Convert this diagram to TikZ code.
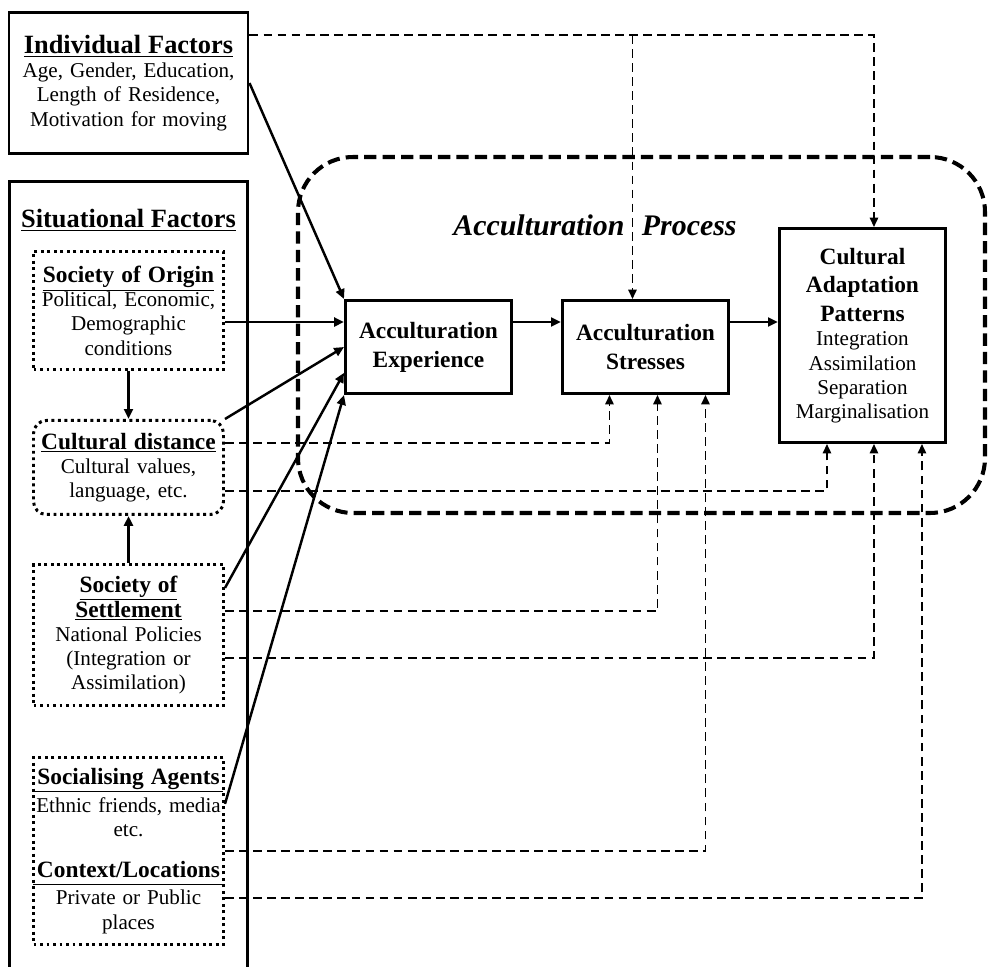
\documentclass[tikz,border=0pt]{standalone}
\usepackage{fontspec}
\setmainfont{Liberation Serif}
\usetikzlibrary{arrows.meta, positioning}
\newcommand{\bighead}{\fontsize{15}{17}\selectfont\bfseries}
\newcommand{\subhead}{\fontsize{13.3}{14.3}\selectfont\bfseries}
\newcommand{\boxhead}{\fontsize{13.3}{16.4}\selectfont\bfseries}

\begin{document}
\begin{tikzpicture}[
  font=\fontsize{12}{13.8}\selectfont,
  factor/.style={draw, line width=1.7pt, align=center, text width=4.6cm,
                 minimum width=4.78cm, inner sep=1pt},
  subfactor/.style={draw, line width=1.7pt, dotted, align=center,
                    text width=3.8cm, minimum width=3.8cm, inner xsep=0pt},
  stage/.style={draw, line width=1.7pt, align=center, text width=3.0cm,
                inner xsep=2pt, minimum width=3.32cm},
  link/.style={-{Triangle[length=5.6pt,width=5pt]}, line width=1.4pt},
  dlink/.style={-{Triangle[length=5.4pt,width=4.8pt]}, line width=1pt,
                dash pattern=on 5pt off 3pt},
  process/.style={draw, line width=2.3pt, dash pattern=on 7pt off 3.5pt,
                  rounded corners=1.1cm}
]
  \useasboundingbox (0,0) rectangle (19.76,-19.34);

  % acculturation process frame
  \node[process, minimum width=13.74cm, minimum height=7.12cm] (proc) at (12.83,-6.7) {};
  \node[font=\fontsize{17}{20}\selectfont\bfseries\itshape] (proctitle) at (11.9,-4.5)
    {Acculturation\hspace{10pt}Process};

  % left column
  \node[factor, minimum height=2.82cm] (indiv) at (2.57,-1.66)
    {{\bighead\underline{Individual Factors}\par}Age, Gender, Education,\\
     Length of Residence,\\ Motivation for moving};

  \draw[line width=1.7pt] (0.19,-3.63) rectangle (4.95,-19.5);
  \node[font=\bighead] (sithead) at (2.57,-4.4) {\underline{Situational Factors}};

  \node[subfactor, minimum height=2.36cm] (origin) at (2.57,-6.21)
    {{\subhead\underline{Society of Origin}\par}Political, Economic,\\
     Demographic\\ conditions};
  \node[subfactor, rounded corners=0.26cm, minimum height=1.88cm,
        below=0.96cm of origin] (cdist)
    {{\subhead\underline{Cultural distance}\par}Cultural values,\\ language, etc.};
  \node[subfactor, minimum height=2.82cm, below=0.94cm of cdist] (settle)
    {{\subhead\underline{Society of}\\ \underline{Settlement}\par}National Policies\\
     (Integration or\\ Assimilation)};
  \node[subfactor, minimum height=3.74cm, below=0.98cm of settle] (social)
    {{\subhead Socialising Agents\vrule width0pt depth3.5pt\par}\hrule height0.8pt\kern3pt
     Ethnic friends, media\\ etc.\par\vskip9pt
     {\subhead Context/Locations\vrule width0pt depth3.5pt\par}\hrule height0.8pt\kern3pt
     Private or Public\\ places};

  % stages
  \node[stage, font=\boxhead, minimum height=1.86cm] (exper) at (8.57,-6.94)
    {Acculturation\\ Experience};
  \node[stage, font=\boxhead, minimum height=1.86cm, right=0.96cm of exper] (stress)
    {Acculturation\\ Stresses};
  \node[stage, minimum height=4.28cm, right=0.96cm of stress, yshift=0.23cm] (adapt)
    {{\boxhead Cultural\\ Adaptation\\ Patterns\par}Integration\\ Assimilation\\
     Separation\\ Marginalisation};

  % direct influences
  \draw[link] (indiv.east) -- (exper.north west);
  \draw[link] ([yshift=-0.23cm]origin.east) -- ([yshift=0.5cm]exper.west);
  \draw[link] (cdist.north east) -- (exper.west);
  \draw[link] (settle.26) -- (exper.197);
  \draw[link] (social.26) -- (exper.south west);
  \draw[link] (origin) -- (cdist);
  \draw[link] (settle) -- (cdist);
  \draw[link] ([yshift=0.5cm]exper.east) -- ([yshift=0.5cm]stress.west);
  \draw[link] ([yshift=0.5cm]stress.east) -- ([yshift=0.27cm]adapt.west);

  % moderating influences
  \coordinate (itop) at ([yshift=0.96cm]indiv.east);
  \coordinate (sTop) at ([xshift=-0.26cm]stress.north);
  \draw[dlink] (itop) -| ([xshift=0.23cm]adapt.north);
  \draw[dlink] (sTop |- itop) -- (sTop);
  \draw[dlink] ([yshift=0.49cm]cdist.east) -| ([xshift=-0.72cm]stress.south);
  \draw[dlink] ([yshift=-0.47cm]cdist.east) -| ([xshift=-0.71cm]adapt.south);
  \draw[dlink] ([yshift=0.48cm]settle.east) -| ([xshift=0.24cm]stress.south);
  \draw[dlink] ([yshift=-0.46cm]settle.east) -| ([xshift=0.23cm]adapt.south);
  \draw[dlink] (social.east) -| ([xshift=1.2cm]stress.south);
  \draw[dlink] ([yshift=-0.94cm]social.east) -| ([xshift=1.19cm]adapt.south);
\end{tikzpicture}
\end{document}
